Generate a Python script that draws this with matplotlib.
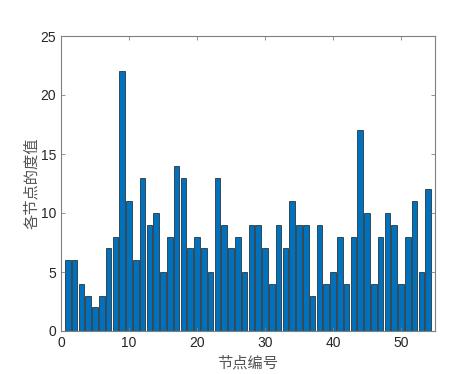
import matplotlib
matplotlib.use("Agg")
import matplotlib.pyplot as plt
import numpy as np

plt.rcParams['font.family'] = ['Liberation Sans', 'Noto Sans CJK SC', 'DejaVu Sans']

nodes = list(range(1, 55))
degrees = [6, 6, 4, 3, 2, 3, 7, 8, 22, 11, 6, 13, 9, 10, 5, 8, 14, 13, 7, 8,
           7, 5, 13, 9, 7, 8, 5, 9, 9, 7, 4, 9, 7, 11, 9, 9, 3, 9, 4, 5,
           8, 4, 8, 17, 10, 4, 8, 10, 9, 4, 8, 11, 5, 12]
xticks = [0, 10, 20, 30, 40, 50]
yticks = [0, 5, 10, 15, 20, 25]

fig = plt.figure(figsize=(4.63, 3.74), dpi=100)
ax = fig.add_axes([61/463, 1-331/374, (435-61)/463, (331-36)/374])
ax.bar(nodes, degrees, width=0.8, color='#0072BD', edgecolor='#1a1a1a', linewidth=0.5)
ax.set_xlim(0, 55)
ax.set_ylim(0, 25)
ax.set_xticks(xticks)
ax.set_yticks(yticks)
gray = '#262626'
for s in ax.spines.values():
    s.set_color('#808080')
    s.set_linewidth(0.8)
ax.tick_params(direction='in', top=True, right=True, length=3, width=0.6,
               colors='#808080', labelcolor=gray, labelsize=10)
ax.set_xlabel('节点编号', fontsize=11, color='#555555',
              family=['Noto Sans CJK SC'], va='center')
ax.set_ylabel('各节点的度值', fontsize=11, color='#555555',
              family=['Noto Sans CJK SC'], va='center')
ax.xaxis.set_label_coords(0.5, -0.108)
ax.yaxis.set_label_coords(-0.078, 0.5)
fig.savefig('out.png', dpi=100)
